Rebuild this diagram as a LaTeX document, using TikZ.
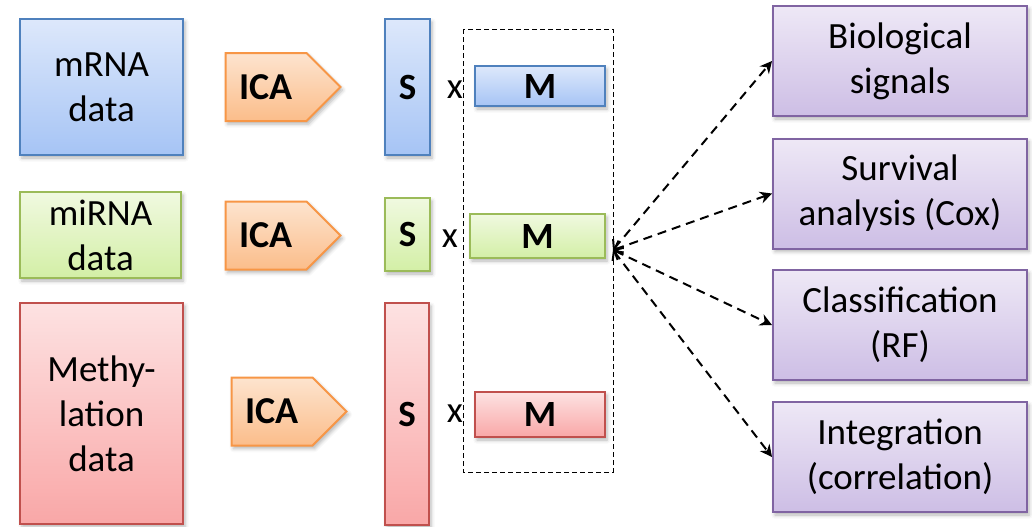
\documentclass[tikz,border=0pt]{standalone}
\usepackage{fontspec}
\setmainfont{Carlito}
\usetikzlibrary{shapes.symbols,arrows.meta,shadows.blur}

\definecolor{bluetop}{HTML}{DDE8FB}
\definecolor{bluebot}{HTML}{A6C4F5}
\definecolor{blueline}{HTML}{4F81BD}
\definecolor{greentop}{HTML}{F0F9E0}
\definecolor{greenbot}{HTML}{D3EFA6}
\definecolor{greenline}{HTML}{9BBB59}
\definecolor{redtop}{HTML}{FDE2E2}
\definecolor{redbot}{HTML}{F9A7A7}
\definecolor{redline}{HTML}{C0504D}
\definecolor{icatop}{HTML}{FDE4CF}
\definecolor{icabot}{HTML}{FBBD8A}
\definecolor{icaline}{HTML}{F79646}
\definecolor{usetop}{HTML}{EEE8F6}
\definecolor{usebot}{HTML}{CDBEE5}
\definecolor{useline}{HTML}{8064A2}

\begin{document}
\begin{tikzpicture}[x=0.5pt,y=-0.5pt,
	box/.style={draw,line width=1pt,inner sep=0pt,align=center,
		font=\fontsize{18.5}{22.5}\selectfont,
		blur shadow={shadow xshift=1pt,shadow yshift=-1.5pt,shadow blur steps=4,shadow opacity=30}},
	bluebox/.style={box,draw=blueline,top color=bluetop,bottom color=bluebot},
	greenbox/.style={box,draw=greenline,top color=greentop,bottom color=greenbot},
	redbox/.style={box,draw=redline,top color=redtop,bottom color=redbot},
	usebox/.style={box,draw=useline,top color=usetop,bottom color=usebot,
		minimum width=127pt,minimum height=55pt},
	ica/.style={box,signal,signal to=east,signal pointer angle=90,
		draw=icaline,top color=icatop,bottom color=icabot,
		minimum width=57.5pt,minimum height=34pt,
		font=\fontsize{19}{22}\selectfont\bfseries},
	bold/.style={font=\fontsize{18.5}{22}\selectfont\bfseries},
	times/.style={font=\fontsize{18.5}{22}\selectfont,inner sep=0pt},
	link/.style={dashed,dash pattern=on 4.5pt off 3pt,line width=1pt,
		{Straight Barb[length=3.5pt,width=7pt]}-{Stealth[length=6pt,width=6pt]}}
	]
	\useasboundingbox (0,0) rectangle (1032,526);

	% input data
	\node[bluebox,minimum width=81.5pt,minimum height=68pt] (mrna) at (101.5,87) {mRNA\\data};
	\node[greenbox,minimum width=80.5pt,minimum height=43pt] (mirna) at (100.5,235) {miRNA\\data};
	\node[redbox,minimum width=81.5pt,minimum height=110.5pt] (meth) at (101.5,413.5) {Methy-\\lation\\data};

	\node[ica] (ica1) at (266,87) {ICA};
	\node[ica] (ica2) at (266,235.5) {ICA};
	\node[ica] (ica3) at (272,411.5) {ICA};

	% sources and mixing matrices
	\node[bluebox,bold,minimum width=22.5pt,minimum height=68pt] (s1) at (407.5,87) {S};
	\node[greenbox,bold,minimum width=22.5pt,minimum height=36.5pt] (s2) at (407.5,234.5) {S};
	\node[redbox,bold,minimum width=22pt,minimum height=111pt] (s3) at (407,414) {S};

	\node[times] (x1) at (455,90) {x};
	\node[times] (x2) at (450,239) {x};
	\node[times] (x3) at (455,414) {x};

	\node[bluebox,bold,minimum width=65pt,minimum height=20pt] (m1) at (540,86) {M};
	\node[greenbox,bold,minimum width=67.5pt,minimum height=22pt] (m2) at (537.5,236) {M};
	\node[redbox,bold,minimum width=65pt,minimum height=22.5pt] (m3) at (540,414.5) {M};

	\draw[dashed,dash pattern=on 2.5pt off 1.5pt,line width=0.5pt] (463,29) rectangle (613,472);
	\coordinate (hub) at (613,250);

	% downstream analyses
	\node[usebox] (bio) at (900,61) {Biological\\signals};
	\node[usebox] (surv) at (900,193.5) {Survival\\analysis (Cox)};
	\node[usebox] (class) at (900,325) {Classification\\(RF)};
	\node[usebox] (integ) at (900,457) {Integration\\(correlation)};

	\draw[link] (hub) -- (bio.west);
	\draw[link] (hub) -- (surv.west);
	\draw[link] (hub) -- (class.west);
	\draw[link] (hub) -- (integ.west);
\end{tikzpicture}
\end{document}
